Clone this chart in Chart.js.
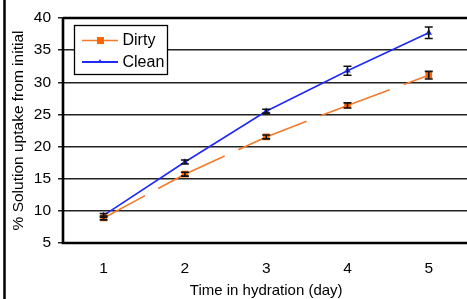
<!DOCTYPE html>
<html>
<head>
<meta charset="utf-8">
<script src="https://cdn.jsdelivr.net/npm/chart.js@4/dist/chart.umd.min.js"></script>
<style>
  html, body { margin: 0; padding: 0; background: #fff; overflow: hidden; }
  #wrap { width: 475px; height: 299px; }
</style>
</head>
<body>
<div id="wrap"><canvas id="uptakeChart"></canvas></div>
<script>
// day labels and measured uptake (% from initial)
const days = ['1', '2', '3', '4', '5'];
const dirtyVals = [8.9, 15.7, 21.5, 26.4, 31.1];
const dirtyErr = [0.3, 0.3, 0.3, 0.4, 0.6];
const cleanVals = [9.3, 17.6, 25.5, 31.8, 37.7];
const cleanErr = [0.3, 0.3, 0.3, 0.7, 0.9];

const FONT = '"Liberation Sans", Arial, sans-serif';

// black error bars drawn from the scales
const errorBars = {
    id: 'errorBars',
    afterDatasetsDraw(chart) {
        const ctx = chart.ctx;
        const yScale = chart.scales.y;
        const errs = [dirtyErr, cleanErr];
        ctx.save();
        ctx.strokeStyle = '#111';
        ctx.lineWidth = 1.6;
        chart.data.datasets.forEach((ds, i) => {
            const meta = chart.getDatasetMeta(i);
            meta.data.forEach((pt, j) => {
                const v = ds.data[j];
                const e = errs[i][j];
                const top = yScale.getPixelForValue(v + e);
                const bot = yScale.getPixelForValue(v - e);
                ctx.beginPath();
                ctx.moveTo(pt.x, top); ctx.lineTo(pt.x, bot);
                ctx.moveTo(pt.x - 4, top); ctx.lineTo(pt.x + 4, top);
                ctx.moveTo(pt.x - 4, bot); ctx.lineTo(pt.x + 4, bot);
                ctx.stroke();
            });
        });
        ctx.restore();
    }
};

// frame line on the left, thick axes and the boxed legend
const decorations = {
    id: 'decorations',
    afterDraw(chart) {
        const ctx = chart.ctx;
        const a = chart.chartArea;
        ctx.save();
        ctx.strokeStyle = '#000';
        ctx.lineWidth = 2.5;
        ctx.beginPath();
        ctx.moveTo(4.5, 0); ctx.lineTo(4.5, 299);
        ctx.stroke();

        ctx.lineWidth = 2.6;
        ctx.beginPath();
        ctx.moveTo(a.left, a.top); ctx.lineTo(a.left, a.bottom); ctx.lineTo(a.right, a.bottom);
        ctx.moveTo(a.left, a.top); ctx.lineTo(a.right, a.top);
        ctx.stroke();

        // legend box
        const bx = 74.5, by = 25.5, bw = 93, bh = 49;
        ctx.fillStyle = '#fff';
        ctx.fillRect(bx, by, bw, bh);
        ctx.lineWidth = 1.3;
        ctx.strokeRect(bx, by, bw, bh);

        const items = chart.data.datasets;
        const rows = [40.5, 62];
        ctx.font = '16px ' + FONT;
        ctx.textBaseline = 'middle';
        items.forEach((ds, i) => {
            const y = rows[i];
            ctx.strokeStyle = ds.borderColor;
            ctx.lineWidth = i === 0 ? 1.5 : 2.2;
            ctx.beginPath();
            ctx.moveTo(82, y); ctx.lineTo(118, y);
            ctx.stroke();
            ctx.fillStyle = ds.pointBackgroundColor;
            if (i === 0) {
                ctx.fillRect(97, y - 3.5, 7, 7);
            } else {
                ctx.beginPath();
                ctx.moveTo(100, y - 3); ctx.lineTo(102.5, y + 1); ctx.lineTo(97.5, y + 1);
                ctx.closePath(); ctx.fill();
            }
            ctx.fillStyle = '#000';
            ctx.fillText(ds.label, 122.5, y + 0.5);
        });
        ctx.restore();
    }
};

new Chart(document.getElementById('uptakeChart'), {
    type: 'line',
    data: {
        labels: days,
        datasets: [
            {
                label: 'Dirty',
                data: dirtyVals,
                borderColor: '#f47a2c',
                backgroundColor: '#ff6600',
                pointBackgroundColor: '#ff6600',
                pointBorderColor: '#ff6600',
                pointStyle: 'rect',
                pointRadius: 3.6,
                borderWidth: 1.6,
                borderDash: [74, 15],
                borderDashOffset: 27,
                tension: 0
            },
            {
                label: 'Clean',
                data: cleanVals,
                borderColor: '#1f2bf5',
                backgroundColor: '#1f2bf5',
                pointBackgroundColor: '#1f2bf5',
                pointBorderColor: '#1f2bf5',
                pointStyle: 'triangle',
                pointRadius: 2.2,
                borderWidth: 1.6,
                tension: 0
            }
        ]
    },
    options: {
        responsive: true,
        maintainAspectRatio: false,
        animation: false,
        layout: { padding: { left: 0, right: 4, top: 18, bottom: 0 } },
        plugins: {
            legend: { display: false },
            tooltip: { enabled: false }
        },
        scales: {
            x: {
                offset: true,
                grid: { display: false, drawTicks: false },
                border: { display: false },
                ticks: { color: '#000', font: { family: FONT, size: 15.5 }, padding: 16 },
                title: {
                    display: true,
                    text: 'Time in hydration (day)',
                    color: '#000',
                    font: { family: FONT, size: 15 },
                    padding: { top: 0, bottom: -1 }
                },
                afterFit(scale) { scale.height = 56; }
            },
            y: {
                min: 5,
                max: 40,
                ticks: { stepSize: 5, color: '#000', font: { family: FONT, size: 15.5 }, padding: 7 },
                grid: { color: '#222', lineWidth: 1.5, tickLength: 5 },
                border: { display: false },
                title: {
                    display: true,
                    text: '% Solution uptake from initial',
                    color: '#000',
                    font: { family: FONT, size: 15.5 },
                    padding: { top: 9, bottom: 0 }
                },
                afterFit(scale) { scale.width = 63; }
            }
        }
    },
    plugins: [errorBars, decorations]
});
</script>
</body>
</html>
